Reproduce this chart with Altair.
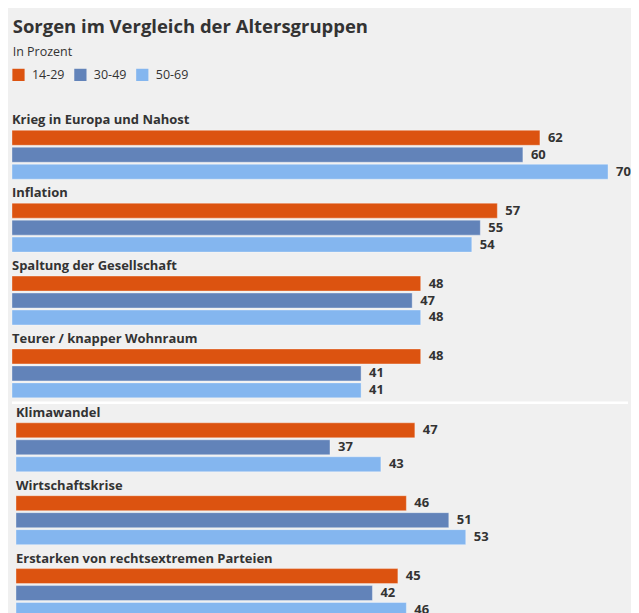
import altair as alt
import pandas as pd

categories = ["Krieg in Europa und Nahost", "Inflation", "Spaltung der Gesellschaft",
              "Teurer / knapper Wohnraum", "Klimawandel", "Wirtschaftskrise",
              "Erstarken von rechtsextremen Parteien"]
groups = ["14-29", "30-49", "50-69"]
v14_29 = [62, 57, 48, 48, 47, 46, 45]
v30_49 = [60, 55, 47, 41, 37, 51, 42]
v50_69 = [70, 54, 48, 41, 43, 53, 46]
colors = ["#dc5310", "#6283b9", "#84b6ef"]

FONT = "Open Sans"
TXT = "#333333"

rows = []
for i, c in enumerate(categories):
    for g, vals in zip(groups, [v14_29, v30_49, v50_69]):
        rows.append({"cat": c, "group": g, "value": vals[i]})
df = pd.DataFrame(rows)

top_cats = categories[:4]
bot_cats = categories[4:]

W = 597


def panel(cats, x_range, label_x, width, stripe=False):
    d = df[df["cat"].isin(cats)]
    ld = pd.DataFrame({"cat": cats})
    y = alt.Y("cat:N", sort=cats, axis=None,
              scale=alt.Scale(paddingInner=0, paddingOuter=0))
    yoff = alt.YOffset("group:N", sort=groups,
                       scale=alt.Scale(paddingInner=2 / 17, paddingOuter=0.706, align=1))
    xenc = alt.X("value:Q", axis=None,
                 scale=alt.Scale(domain=[0, 70], range=x_range, nice=False, zero=True))
    bars = alt.Chart(d).mark_bar(strokeWidth=1, strokeOpacity=0.35, stroke="white").encode(
        x=xenc, y=y, yOffset=yoff,
        color=alt.Color("group:N", sort=groups,
                        scale=alt.Scale(domain=groups, range=colors),
                        legend=alt.Legend(orient="top", direction="horizontal", title=None,
                                          symbolType="square", symbolSize=150,
                                          symbolStrokeWidth=0, labelFontSize=12.5,
                                          labelFont=FONT, labelColor=TXT,
                                          labelOffset=7, columnPadding=9, offset=25,
                                          padding=0)),
    )
    vals = alt.Chart(d).mark_text(align="left", baseline="middle", dx=8, font=FONT,
                                  fontSize=13, fontWeight="bold", color=TXT).encode(
        x=xenc, y=y, yOffset=yoff, text=alt.Text("value:Q"))
    labels = alt.Chart(ld).mark_text(align="left", baseline="middle", dy=14, font=FONT,
                                     fontSize=13, fontWeight="bold", color=TXT).encode(
        x=alt.value(label_x), y=alt.Y("cat:N", sort=cats, axis=None, bandPosition=0,
                                      scale=alt.Scale(paddingInner=0, paddingOuter=0)),
        text="cat:N")
    layers = [bars, vals, labels]
    if stripe:
        rule = alt.Chart(ld.head(1)).mark_rule(color="white", strokeWidth=2.5).encode(
            y=alt.value(4), x=alt.value(0), x2=alt.value(width + 20))
        layers.append(rule)
    return alt.layer(*layers).properties(width=width, height=73 * len(cats))


top = panel(top_cats, [0, W], 0, W)
bottom = panel(bot_cats, [4, W + 2], 4, W, stripe=True)

chart = alt.vconcat(top, bottom, spacing=0).resolve_scale(
    x="independent", y="independent"
).properties(
    title=alt.Title("Sorgen im Vergleich der Altersgruppen", subtitle="In Prozent",
                    anchor="start", font=FONT, fontSize=18.5, fontWeight="bold", color=TXT,
                    subtitleFont=FONT, subtitleFontSize=12.5, subtitleColor=TXT,
                    subtitlePadding=9, dx=2, offset=10),
    padding={"left": 2, "top": 10, "right": 0, "bottom": 0},
).configure(background="#f0f0f0").configure_view(stroke=None)

chart.save("out.html", embed_options={"renderer": "svg", "actions": False})
